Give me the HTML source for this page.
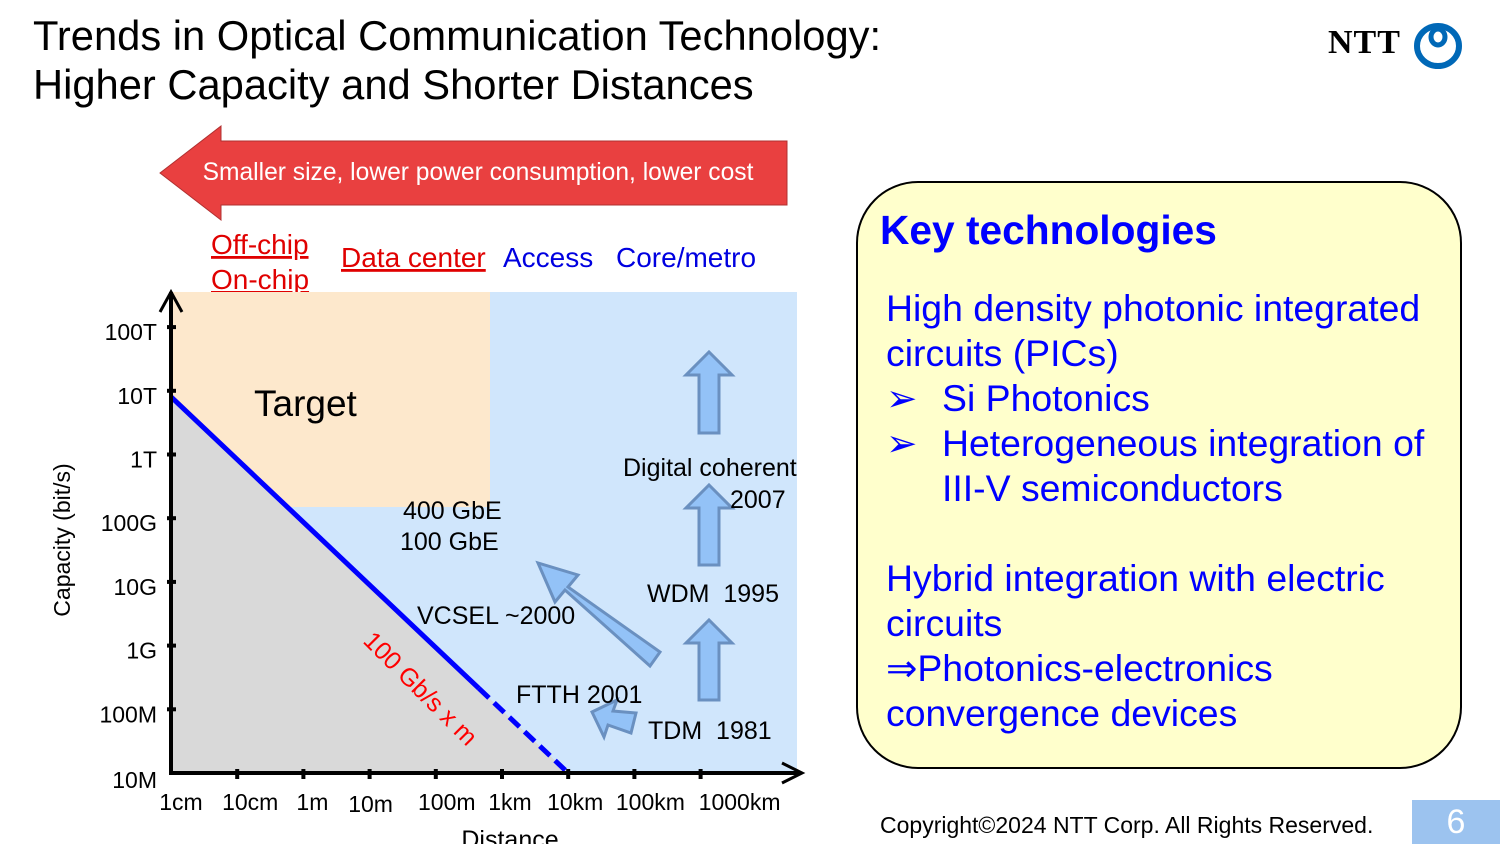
<!DOCTYPE html>
<html><head><meta charset="utf-8"><style>
body{margin:0;width:1500px;height:844px;overflow:hidden;background:#fff;font-family:"Liberation Sans",sans-serif;position:relative}
.t{position:absolute;white-space:nowrap}
</style></head><body>
<div class="t" style="left:33px;top:11px;font-size:41.7px;line-height:49px;color:#000">Trends in Optical Communication Technology:<br>Higher Capacity and Shorter Distances</div>
<div style="position:absolute;left:1328px;top:22px;width:140px;height:50px">
<span style="position:absolute;left:0;top:2px;font-family:'Liberation Serif',serif;font-weight:bold;font-size:34px;letter-spacing:1px">NTT</span>
<svg style="position:absolute;left:84px;top:0" width="52" height="48"><ellipse cx="26" cy="24" rx="21" ry="20" fill="none" stroke="#0068b7" stroke-width="6"/><ellipse cx="26" cy="15" rx="7" ry="8" fill="none" stroke="#0068b7" stroke-width="5"/></svg>
</div>
<svg id="chart" width="820" height="844" style="position:absolute;left:0;top:0" font-family="Liberation Sans, sans-serif"></svg>
<div style="position:absolute;left:856px;top:181px;width:602px;height:584px;border:2px solid #000;border-radius:62px;background:#ffffcc"></div>
<div class="t" style="left:880px;top:207px;font-size:40.7px;font-weight:bold;color:#0000ff">Key technologies</div>
<div class="t" style="left:886px;top:286px;font-size:37.4px;line-height:45px;color:#0000ff">High density photonic integrated<br>circuits (PICs)<br><span style="display:inline-block;width:56px">➢</span>Si Photonics<br><span style="display:inline-block;width:56px">➢</span>Heterogeneous integration of<br><span style="display:inline-block;width:56px"></span>III-V semiconductors<br><br>Hybrid integration with electric<br>circuits<br>⇒Photonics-electronics<br>convergence devices</div>
<div class="t" style="left:880px;top:812px;font-size:23px">Copyright©2024 NTT Corp. All Rights Reserved.</div>
<div style="position:absolute;left:1412px;top:800px;width:88px;height:44px;background:#9cc3ef;color:#fff;font-size:34px;text-align:center;line-height:44px">6</div>
<script>
const xLabels=["1cm","10cm","1m","10m","100m","1km","10km","100km","1000km"];
const yLabels=["10M","100M","1G","10G","100G","1T","10T","100T"];
const limitStart=[0,6]; // [distance decade, capacity decade]
const limitEnd=[6,0];
const solidEnd=5;
const svg=document.getElementById('chart');
const NS='http://www.w3.org/2000/svg';
const X0=171,DX=66.2,Y0=773,DY=63.7;
const sx=d=>X0+d*DX, sy=c=>Y0-c*DY;
function mk(tag,at,txt){const e=document.createElementNS(NS,tag);for(const k in at)e.setAttribute(k,at[k]);if(txt!=null)e.textContent=txt;svg.appendChild(e);return e;}
let e;
e=mk('polygon',{points:"160,173 221,126 221,141 787,141 787,205 221,205 221,220",fill:"#e94040",stroke:"#b03030","stroke-width":1});

e=mk('text',{x:478,y:180,fill:"#fff","font-size":24.6,"text-anchor":"middle"},"Smaller size, lower power consumption, lower cost");

const cats=[["Off-chip",211,254,"#e00000",true],["On-chip",211,289,"#e00000",true],["Data center",341,267,"#e00000",true],["Access",503,267,"#0000e0",false],["Core/metro",616,267,"#0000e0",false]];
cats.forEach(c=>{e=mk('text',{x:c[1],y:c[2],fill:c[3],"font-size":28,"text-decoration":c[4]?"underline":"none"},c[0]);
});
e=mk('rect',{x:171,y:292,width:626,height:481,fill:"#d0e6fc"});

e=mk('rect',{x:171,y:292,width:319,height:215,fill:"#fde8cc"});

e=mk('polygon',{points:`${sx(limitStart[0])},${sy(limitStart[1])+6} ${sx(limitEnd[0])},${sy(limitEnd[1])} ${X0},${Y0}`,fill:"#d9d9d9"});

const t=(solidEnd-limitStart[0])/(limitEnd[0]-limitStart[0])*0.93;
const ax=sx(limitStart[0]),ay=sy(limitStart[1])+6,bx=sx(limitEnd[0]),by=sy(limitEnd[1]);
const mx=ax+t*(bx-ax), my=ay+t*(by-ay);
e=mk('line',{x1:ax,y1:ay,x2:mx,y2:my,stroke:"#0000ff","stroke-width":5});

e=mk('line',{x1:mx,y1:my,x2:bx,y2:by,stroke:"#0000ff","stroke-width":5,"stroke-dasharray":"14 7"});

e=mk('text',{x:0,y:0,fill:"#ff0000","font-size":25,transform:"translate(362,642) rotate(45)"},"100 Gb/s x m");

e=mk('text',{x:254,y:416,"font-size":37},"Target");

function up(x,yt,yb,name){const w=10,h=23;e=mk('polygon',{points:`${x-w},${yb} ${x-w},${yt+h} ${x-h},${yt+h} ${x},${yt} ${x+h},${yt+h} ${x+w},${yt+h} ${x+w},${yb}`,fill:"#93c2f7",stroke:"#6a90c0","stroke-width":3});
}
up(709,352,433,'coherent-arrow');up(709,485,565,'wdm-coherent-arrow');up(709,620,700,'tdm-wdm-arrow');
e=mk('polygon',{points:"660,652 650,666 565,590 555,602 538,563 578,575 568,587",fill:"#93c2f7",stroke:"#6a90c0","stroke-width":3});

e=mk('polygon',{points:"636,713 631,733 608,725 604,737 592,712 617,700 613,711",fill:"#93c2f7",stroke:"#6a90c0","stroke-width":3});

const notes=[["400 GbE",403,519],["100 GbE",400,550],["Digital coherent",623,476],["2007",730,508],["WDM\u00a0\u00a01995",647,602],["VCSEL ~2000",417,624],["FTTH 2001",516,703],["TDM\u00a0\u00a01981",648,739]];
notes.forEach(n=>{e=mk('text',{x:n[1],y:n[2],"font-size":25},n[0]);});
e=mk('line',{x1:171,y1:773,x2:171,y2:292,stroke:"#000","stroke-width":4});
e=mk('polyline',{points:"160,312 171,292 182,312",fill:"none",stroke:"#000","stroke-width":3});
e=mk('line',{x1:169,y1:773,x2:800,y2:773,stroke:"#000","stroke-width":4});
e=mk('polyline',{points:"782,763 802,773 782,783",fill:"none",stroke:"#000","stroke-width":3});
yLabels.forEach((l,i)=>{const y=sy(i);
if(i>0){e=mk('line',{x1:167,y1:y,x2:176,y2:y,stroke:"#000","stroke-width":4});}
e=mk('text',{x:157,y:y+(i==0?15:13),"font-size":23,"text-anchor":"end"},l);});
const xShift=[10,13,9,1,11,8,7,16,39];
xLabels.forEach((l,i)=>{const x=sx(i);
if(i>0){e=mk('line',{x1:x,y1:769,x2:x,y2:779,stroke:"#000","stroke-width":4});}
e=mk('text',{x:x+xShift[i],y:i==3?812:810,"font-size":23,"text-anchor":"middle"},l);});
e=mk('text',{x:0,y:0,"font-size":23,"text-anchor":"middle",transform:"translate(70,540) rotate(-90)"},"Capacity (bit/s)");

e=mk('text',{x:510,y:848,"font-size":25,"text-anchor":"middle"},"Distance");

</script>
</body></html>
